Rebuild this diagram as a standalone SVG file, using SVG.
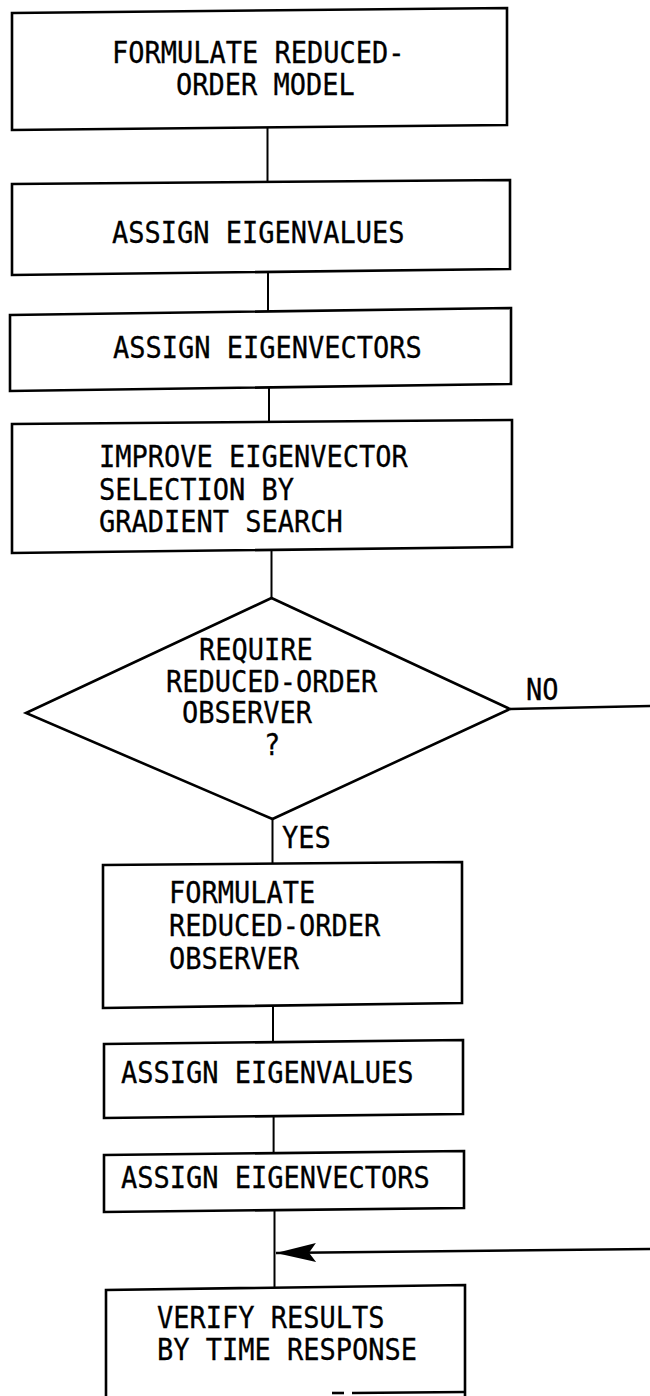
<svg xmlns="http://www.w3.org/2000/svg" width="650" height="1396" viewBox="0 0 650 1396">
  <style>
    .box { fill: none; stroke: #000; stroke-width: 2.6; stroke-linejoin: miter; }
    .link { fill: none; stroke: #000; stroke-width: 2; }
    .lbl { font-family: "DejaVu Sans Mono", "Liberation Mono", monospace; font-size: 29.5px; fill: #000; stroke: #000; stroke-width: 0.3; }
  </style>
  <defs>
    <marker id="arrowhead" markerUnits="userSpaceOnUse" viewBox="-45 -12 50 24" markerWidth="50" markerHeight="24" refX="0" refY="0" orient="auto">
      <path d="M0,0 L-40,-9.5 L-33,0 L-40,9.5 Z" fill="#000"/>
    </marker>
  </defs>

  <rect width="650" height="1396" fill="#fff"/>

  <!-- connectors; labels use a condensed monospace, 16.25px per character -->
  <g id="connectors">
    <line class="link" x1="267.5" y1="127" x2="267.5" y2="182"/>
    <line class="link" x1="268" y1="272" x2="268" y2="311"/>
    <line class="link" x1="269" y1="387" x2="269" y2="422"/>
    <line class="link" x1="271.5" y1="550" x2="271.5" y2="598"/>
    <line class="link" x1="272.5" y1="819" x2="272.5" y2="864"/>
    <line class="link" x1="273" y1="1005" x2="273" y2="1042"/>
    <line class="link" x1="273.6" y1="1116" x2="273.6" y2="1153"/>
    <line class="link" x1="274.5" y1="1210" x2="274.5" y2="1288"/>
    <!-- NO branch leaves to the right -->
    <line class="link" x1="510" y1="709" x2="650" y2="706" style="stroke-width:2.5"/>
    <!-- NO branch returns above the final step -->
    <line class="link" x1="650" y1="1249" x2="276" y2="1253" style="stroke-width:2.3" marker-end="url(#arrowhead)"/>
    <text class="lbl" x="526" y="700" textLength="32.5" lengthAdjust="spacingAndGlyphs">NO</text>
    <text class="lbl" x="282" y="848" textLength="48.75" lengthAdjust="spacingAndGlyphs">YES</text>
  </g>

  <g id="formulate-model">
    <polygon class="box" points="12,13 507,8 507,125 12,130"/>
    <text class="lbl" x="112" y="63" textLength="292.5" lengthAdjust="spacingAndGlyphs">FORMULATE REDUCED-</text>
    <text class="lbl" x="176" y="95" textLength="178.75" lengthAdjust="spacingAndGlyphs">ORDER MODEL</text>
  </g>

  <g id="assign-eigenvalues-1">
    <polygon class="box" points="12,184 510,180 510,269 12,275"/>
    <text class="lbl" x="112" y="243" textLength="292.5" lengthAdjust="spacingAndGlyphs">ASSIGN EIGENVALUES</text>
  </g>

  <g id="assign-eigenvectors-1">
    <polygon class="box" points="10,315 511,308 511,384 10,391"/>
    <text class="lbl" x="113" y="358" textLength="308.75" lengthAdjust="spacingAndGlyphs">ASSIGN EIGENVECTORS</text>
  </g>

  <g id="gradient-search">
    <polygon class="box" points="12,424 512,420 512,547 12,553"/>
    <text class="lbl" x="99" y="467" textLength="308.75" lengthAdjust="spacingAndGlyphs">IMPROVE EIGENVECTOR</text>
    <text class="lbl" x="99" y="500" textLength="195" lengthAdjust="spacingAndGlyphs">SELECTION BY</text>
    <text class="lbl" x="99" y="532" textLength="243.75" lengthAdjust="spacingAndGlyphs">GRADIENT SEARCH</text>
  </g>

  <g id="observer-decision">
    <polygon class="box" points="271.5,598 510,709 272.5,819 26,713"/>
    <text class="lbl" x="199" y="660" textLength="113.75" lengthAdjust="spacingAndGlyphs">REQUIRE</text>
    <text class="lbl" x="166" y="692" textLength="211.25" lengthAdjust="spacingAndGlyphs">REDUCED-ORDER</text>
    <text class="lbl" x="182" y="723" textLength="130" lengthAdjust="spacingAndGlyphs">OBSERVER</text>
    <text class="lbl" x="264" y="755" textLength="16.25" lengthAdjust="spacingAndGlyphs">?</text>
  </g>

  <g id="formulate-observer">
    <polygon class="box" points="103,865 462,862 462,1003 103,1008"/>
    <text class="lbl" x="169" y="903" textLength="146.25" lengthAdjust="spacingAndGlyphs">FORMULATE</text>
    <text class="lbl" x="169" y="936" textLength="211.25" lengthAdjust="spacingAndGlyphs">REDUCED-ORDER</text>
    <text class="lbl" x="169" y="969" textLength="130" lengthAdjust="spacingAndGlyphs">OBSERVER</text>
  </g>

  <g id="assign-eigenvalues-2">
    <polygon class="box" points="104,1044 463,1040 463,1114 104,1118"/>
    <text class="lbl" x="121" y="1083" textLength="292.5" lengthAdjust="spacingAndGlyphs">ASSIGN EIGENVALUES</text>
  </g>

  <g id="assign-eigenvectors-2">
    <polygon class="box" points="104,1155 464,1151 464,1208 104,1212"/>
    <text class="lbl" x="121" y="1188" textLength="308.75" lengthAdjust="spacingAndGlyphs">ASSIGN EIGENVECTORS</text>
  </g>

  <g id="verify-results">
    <polyline class="box" points="106,1396 106,1290 465,1285 465,1396"/>
    <line class="box" x1="332" y1="1393" x2="344" y2="1393"/>
    <line class="box" x1="352" y1="1393" x2="465" y2="1392"/>
    <text class="lbl" x="157" y="1328" textLength="227.5" lengthAdjust="spacingAndGlyphs">VERIFY RESULTS</text>
    <text class="lbl" x="157" y="1360" textLength="260" lengthAdjust="spacingAndGlyphs">BY TIME RESPONSE</text>
  </g>
</svg>
